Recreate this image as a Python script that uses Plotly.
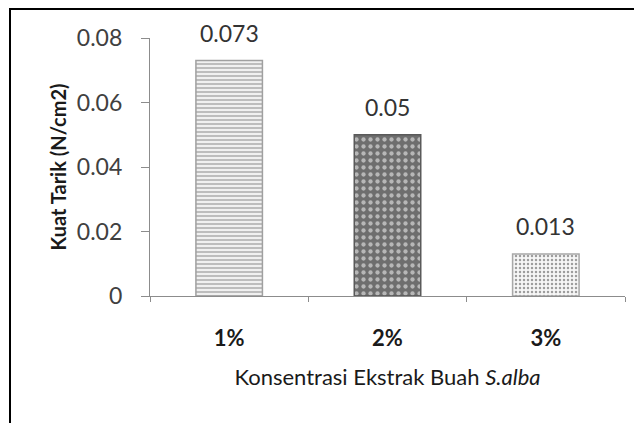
import plotly.graph_objects as go

categories = ["1%", "2%", "3%"]
values = [0.073, 0.05, 0.013]
labels = ["0.073", "0.05", "0.013"]
y_ticks = [0, 0.02, 0.04, 0.06, 0.08]
y_tick_text = ["0", "0.02", "0.04", "0.06", "0.08"]

bg_colors = ["#f0f0f0", "#6e6e6e", "#f7f7f7"]
fg_colors = ["#b0b0b0", "#bdbdbd", "#a8a8a8"]
shapes_p = ["-", ".", "."]
line_colors = ["#a0a0a0", "#5a5a5a", "#a8a8a8"]
sizes_p = [4, 7, 4]

fig = go.Figure()
fig.add_trace(go.Bar(
    x=categories, y=values,
    marker=dict(
        color=bg_colors,
        line=dict(color=line_colors, width=1.5),
        pattern=dict(shape=shapes_p, fgcolor=fg_colors, bgcolor=bg_colors,
                     size=sizes_p, solidity=0.3, fillmode="overlay"),
    ),
    width=0.42,
    showlegend=False,
))

for c, v, t in zip(categories, values, labels):
    fig.add_annotation(x=c, y=v, text=t, showarrow=False, yshift=28,
                       font=dict(family="Lato", size=23, color="#333333"))

# page body has an 8px margin; figure is laid out in its own coordinates
OFF = 8
W, H = 642 - OFF, 423 - OFF
l, r, t, b = 150 - OFF, 17, 38 - OFF, 127
pw, ph = W - l - r, H - t - b
def px(x):
    return (x - OFF - l) / pw
def py(y):
    return (H - b - (y - OFF)) / ph

# outer frame (top and left lines)
fig.add_shape(type="line", xref="paper", yref="paper",
              x0=px(10), x1=px(650), y0=py(9), y1=py(9),
              line=dict(color="black", width=2))
fig.add_shape(type="line", xref="paper", yref="paper",
              x0=px(10), x1=px(10), y0=py(8), y1=py(430),
              line=dict(color="black", width=2))

fig.update_layout(
    width=W, height=H,
    margin=dict(l=l, r=r, t=t, b=b, autoexpand=False),
    paper_bgcolor="white", plot_bgcolor="white",
    font=dict(family="Lato", color="#333333"),
    xaxis=dict(
        showline=True, linecolor="#8c8c8c", linewidth=1.2,
        ticks="outside", tickson="boundaries", ticklen=5, tickcolor="#8c8c8c",
        tickfont=dict(family="Lato", size=22, color="#1a1a1a", weight="bold"),
        ticklabelstandoff=22,
        title=dict(text="Konsentrasi Ekstrak Buah <i>S.alba</i>",
                   font=dict(family="Lato", size=22, color="#1a1a1a"), standoff=20),
        showgrid=False,
    ),
    yaxis=dict(
        range=[0, 0.08], tickvals=y_ticks, ticktext=y_tick_text,
        showline=True, linecolor="#8c8c8c", linewidth=1.2,
        ticks="outside", ticklen=8, tickcolor="#8c8c8c",
        tickfont=dict(family="Lato", size=23, color="#404040"),
        ticklabelstandoff=14,
        title=dict(text="<b>Kuat Tarik (N/cm2)</b>",
                   font=dict(family="Lato", size=20, color="#1a1a1a"), standoff=4),
        showgrid=False, zeroline=False,
    ),
)

fig.write_html("out.html")
